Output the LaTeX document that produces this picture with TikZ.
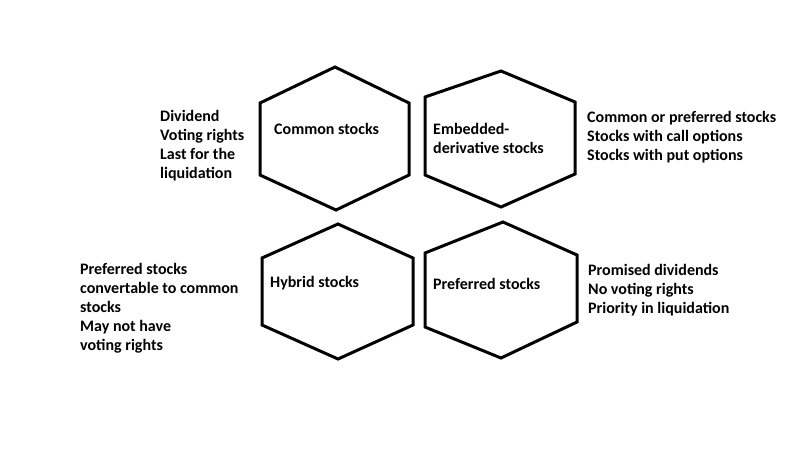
\documentclass[tikz,border=0pt]{standalone}
\usepackage{fontspec}
\setmainfont{Carlito}
\begin{document}
\begin{tikzpicture}[x=1pt,y=-1pt,
  hexline/.style={draw=black,line width=3pt,line join=miter},
  lbl/.style={inner sep=0pt,anchor=base west,font=\bfseries\fontsize{16}{19}\selectfont}]
\useasboundingbox[fill=white] (0,0) rectangle (800,464);
% hexagons
\draw[hexline] (335,67) -- (409,103) -- (409,175) -- (336,210) -- (260,175) -- (260,103) -- cycle;
\draw[hexline] (501,71) -- (575,102) -- (575,174) -- (501,207) -- (425,175) -- (425,97) -- cycle;
\draw[hexline] (338,224) -- (413,258) -- (413,325) -- (338,359) -- (262,325) -- (262,258) -- cycle;
\draw[hexline] (503,222) -- (577,255) -- (577,322) -- (501,358) -- (425,327) -- (425,253) -- cycle;
% labels in hexagons
\node[lbl] (common) at (274,134) {Common stocks};
\node[lbl] (embedded) at (433,134) {\begin{tabular}[t]{@{}l@{}}Embedded-\\derivative stocks\end{tabular}};
\node[lbl] (hybrid) at (270,287) {Hybrid stocks};
\node[lbl] (preferred) at (433,289) {Preferred stocks};
% side texts
\node[lbl] (commontxt) at (160,121) {\begin{tabular}[t]{@{}l@{}}Dividend\\Voting rights\\Last for the\\liquidation\end{tabular}};
\node[lbl] (embtxt) at (587,122) {\begin{tabular}[t]{@{}l@{}}Common or preferred stocks\\Stocks with call options\\Stocks with put options\end{tabular}};
\node[lbl] (hybtxt) at (80,274) {\begin{tabular}[t]{@{}l@{}}Preferred stocks\\convertable to common\\stocks\\May not have\\voting rights\end{tabular}};
\node[lbl] (preftxt) at (588,275) {\begin{tabular}[t]{@{}l@{}}Promised dividends\\No voting rights\\Priority in liquidation\end{tabular}};
\end{tikzpicture}
\end{document}
